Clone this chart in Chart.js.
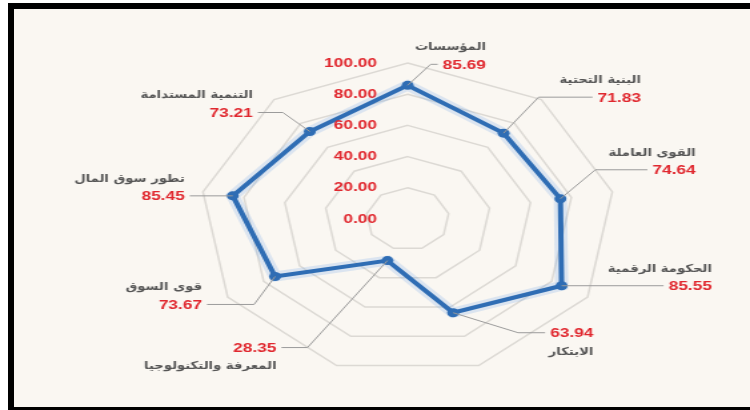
<!DOCTYPE html>
<html><head><meta charset="utf-8">
<script src="https://cdn.jsdelivr.net/npm/chart.js@4.4.1/dist/chart.umd.min.js"></script>
<style>
html,body{margin:0;padding:0;background:#fff;width:750px;height:410px;overflow:hidden;position:relative;}
#frame{position:absolute;left:8px;top:3px;width:760px;height:398px;border-left:6px solid #000;border-top:6px solid #000;border-bottom:4px solid #000;background:#faf7f2;}
#wrap{position:absolute;left:0;top:0;width:563px;height:410px;transform:scaleX(1.33215);transform-origin:0 0;}
</style></head>
<body>
<div id="frame"></div>
<div id="wrap"><canvas id="c"></canvas></div>
<script>
// ---- data ----
const categories = ["المؤسسات","البنية التحتية","القوى العاملة","الحكومة الرقمية","الابتكار","المعرفة والتكنولوجيا","قوى السوق","تطور سوق المال","التنمية المستدامة"];
const values = [85.69, 71.83, 74.64, 85.55, 63.94, 28.35, 73.67, 85.45, 73.21];
const tickValues = [0, 20, 40, 60, 80, 100];

// ---- label layout (reference pixels, relative to each point) ----
const SX = 1.33215;
const leaderDx  = [23, 35, 35, 0, 65, -80, -21, 0, -27];
const leaderDy  = [-21, -36, -29, 0, 20, 87, 28, 0, -19];
const leaderLen = [7, 54, 52, 102, 27, 26, 47, 43, 25];
const leaderDir = [1, 1, 1, 1, 1, -1, -1, -1, -1];
const nameBelow = [false, false, false, false, true, true, false, false, false];

const RED = '#e0282f';
const BLUE = '#2f6db4';
const NUMFONT = 'bold 13px "Liberation Sans", Arial, sans-serif';
const NAMEFONT = 'bold 11px "DejaVu Sans Condensed", "DejaVu Sans", sans-serif';

const labelPlugin = {
  id: 'radarLabels',
  afterDatasetsDraw(chart) {
    const s = chart.scales.r;
    const ctx = chart.ctx;
    ctx.save();
    // tick labels
    ctx.font = NUMFONT;
    ctx.fillStyle = RED;
    ctx.textAlign = 'right';
    ctx.textBaseline = 'middle';
    tickValues.forEach(v => {
      const y = s.yCenter - s.getDistanceFromCenterForValue(v);
      ctx.fillText(v.toFixed(2), s.xCenter - 23, y);
    });
    // leaders + labels
    values.forEach((v, i) => {
      const p = s.getPointPositionForValue(i, v);
      const e = { x: p.x + leaderDx[i] / SX, y: p.y + leaderDy[i] };
      const end = { x: e.x + leaderDir[i] * leaderLen[i] / SX, y: e.y };
      ctx.strokeStyle = '#9b9b9b';
      ctx.lineWidth = 1;
      ctx.beginPath();
      ctx.moveTo(p.x, p.y);
      ctx.lineTo(e.x, e.y);
      ctx.lineTo(end.x, end.y);
      ctx.stroke();
      const gap = 5 / SX;
      ctx.font = NUMFONT;
      const txt = v.toFixed(2);
      const w = ctx.measureText(txt).width;
      let right;
      if (leaderDir[i] > 0) right = end.x + gap + w; else right = end.x - gap;
      ctx.fillStyle = RED;
      ctx.textAlign = 'right';
      ctx.direction = 'ltr';
      ctx.fillText(txt, right, end.y + 1);
      ctx.font = NAMEFONT;
      ctx.fillStyle = '#555555';
      ctx.direction = 'rtl';
      ctx.textAlign = 'right';
      ctx.fillText(categories[i], right, end.y + 1 + (nameBelow[i] ? 18 : -18));
    });
    ctx.restore();
  }
};

new Chart(document.getElementById('c'), {
  type: 'radar',
  data: {
    labels: categories,
    datasets: [
      { data: values, borderColor: BLUE, backgroundColor: 'transparent', borderWidth: 4,
        pointRadius: 4.5, pointBackgroundColor: BLUE, pointBorderColor: BLUE, pointBorderWidth: 0, fill: false, order: 1 },
      { data: values, borderColor: 'rgba(110,165,230,0.22)', backgroundColor: 'transparent', borderWidth: 10,
        pointRadius: 0, fill: false, order: 2 }
    ]
  },
  options: {
    responsive: true,
    maintainAspectRatio: false,
    animation: false,
    events: [],
    layout: { padding: { left: 150, right: 101, top: 63, bottom: 35 } },
    plugins: { legend: { display: false }, tooltip: { enabled: false } },
    scales: {
      r: {
        min: 0, max: 100,
        ticks: { display: false, stepSize: 20 },
        grid: { color: '#dcd9d4', lineWidth: 1.5 },
        angleLines: { display: false },
        pointLabels: { display: false }
      }
    }
  },
  plugins: [labelPlugin]
});
</script>
</body></html>
